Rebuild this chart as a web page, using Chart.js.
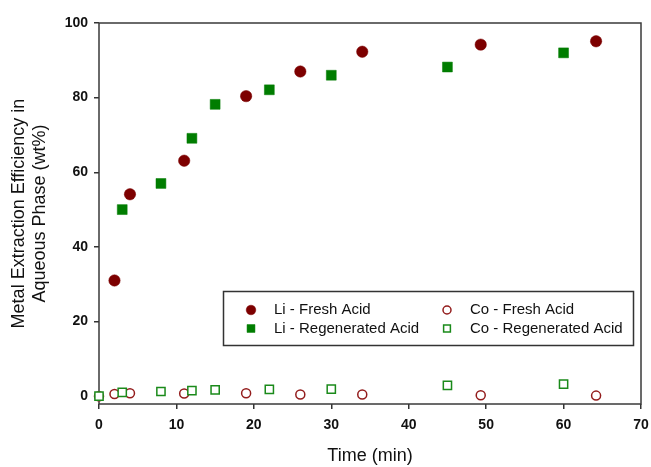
<!DOCTYPE html>
<html>
<head>
<meta charset="utf-8">
<script src="https://cdn.jsdelivr.net/npm/chart.js@4.4.1/dist/chart.umd.min.js"></script>
<style>
  html, body { margin: 0; padding: 0; background: #fff; }
  canvas { display: block; }
</style>
</head>
<body>
<canvas id="extractionChart" width="651" height="467"></canvas>
<script>
// values (time in min, extraction in wt%)
const liFreshTime = [2, 4, 11, 19, 26, 34, 49.3, 64.2];
const liFreshValues = [31, 54.1, 63.1, 80.4, 87, 92.3, 94.2, 95.1];

const liRegenTime = [3, 8, 12, 15, 22, 30, 45, 60];
const liRegenValues = [50, 57, 69.1, 78.2, 82.1, 86, 88.2, 92];

const coFreshTime = [0, 2, 4, 11, 19, 26, 34, 49.3, 64.2];
const coFreshValues = [0, 0.6, 0.8, 0.7, 0.8, 0.45, 0.45, 0.25, 0.15];

const coRegenTime = [0, 3, 8, 12, 15, 22, 30, 45, 60];
const coRegenValues = [0, 1.0, 1.25, 1.5, 1.7, 1.8, 1.9, 2.9, 3.2];

const xTicks = [0, 10, 20, 30, 40, 50, 60, 70];
const yTicks = [0, 20, 40, 60, 80, 100];

const FONT = "'Liberation Sans', Arial, sans-serif";

function toPoints(xs, ys) {
    return xs.map((x, i) => ({ x: x, y: ys[i] }));
}

// plot frame (all four sides), drawn under the markers
const frame = {
    id: 'frame',
    beforeDatasetsDraw(chart) {
        const { ctx, chartArea: a } = chart;
        ctx.save();
        ctx.strokeStyle = '#3a3a3a';
        ctx.lineWidth = 1.5;
        ctx.strokeRect(a.left, a.top, a.right - a.left, a.bottom - a.top);
        ctx.restore();
    }
};

// boxed legend inside the plot, two columns
const boxLegend = {
    id: 'boxLegend',
    afterDatasetsDraw(chart) {
        const { ctx, chartArea: a } = chart;
        const left = a.left + 124.5, top = a.top + 268.5;
        const right = a.right - 7.5, bottom = a.bottom - 58.5;
        ctx.save();
        ctx.fillStyle = '#fff';
        ctx.fillRect(left, top, right - left, bottom - top);
        ctx.strokeStyle = '#333';
        ctx.lineWidth = 1.5;
        ctx.strokeRect(left, top, right - left, bottom - top);

        const cols = [a.left + 152, a.left + 348];
        const rows = [a.top + 287, a.top + 305.5];
        const items = [
            { ds: 0, col: 0, row: 0, r: 4.8 },
            { ds: 2, col: 1, row: 0, r: 4 },
            { ds: 1, col: 0, row: 1, r: 5.6 },
            { ds: 3, col: 1, row: 1, r: 4.8 }
        ];
        ctx.font = '15px ' + FONT;
        ctx.textBaseline = 'middle';
        ctx.textAlign = 'left';
        items.forEach(it => {
            const ds = chart.data.datasets[it.ds];
            const x = cols[it.col], y = rows[it.row];
            ctx.fillStyle = ds.backgroundColor;
            ctx.strokeStyle = ds.borderColor;
            ctx.lineWidth = ds.borderWidth;
            Chart.helpers.drawPoint(ctx, {
                pointStyle: ds.pointStyle,
                radius: it.r,
                borderWidth: ds.borderWidth,
                rotation: 0
            }, x, y);
            ctx.fillStyle = '#111';
            ctx.fillText(ds.label, x + 23, y);
        });
        ctx.restore();
    }
};

document.addEventListener("DOMContentLoaded", function() {
    const ctx = document.getElementById('extractionChart').getContext('2d');
    new Chart(ctx, {
        type: 'scatter',
        data: {
            datasets: [{
                label: 'Li - Fresh Acid',
                data: toPoints(liFreshTime, liFreshValues),
                pointStyle: 'circle',
                pointRadius: 5.7,
                backgroundColor: '#7d0000',
                borderColor: '#7d0000',
                borderWidth: 0.5,
                order: 3,
                clip: false
            }, {
                label: 'Li - Regenerated Acid',
                data: toPoints(liRegenTime, liRegenValues),
                pointStyle: 'rect',
                pointRadius: 7,
                backgroundColor: '#007d00',
                borderColor: '#007d00',
                borderWidth: 0.5,
                order: 2,
                clip: false
            }, {
                label: 'Co - Fresh Acid',
                data: toPoints(coFreshTime, coFreshValues),
                pointStyle: 'circle',
                pointRadius: 4.5,
                backgroundColor: '#ffffff',
                borderColor: '#931c1c',
                borderWidth: 1.5,
                order: 1,
                clip: false
            }, {
                label: 'Co - Regenerated Acid',
                data: toPoints(coRegenTime, coRegenValues),
                pointStyle: 'rect',
                pointRadius: 5.8,
                backgroundColor: '#ffffff',
                borderColor: '#1a8a1a',
                borderWidth: 1.5,
                order: 0,
                clip: false
            }]
        },
        options: {
            responsive: false,
            animation: false,
            layout: {
                padding: { top: 23, right: 10, left: 0, bottom: 0 }
            },
            plugins: {
                legend: { display: false },
                tooltip: { enabled: false }
            },
            scales: {
                x: {
                    type: 'linear',
                    min: 0,
                    max: 70,
                    afterBuildTicks: function(scale) {
                        scale.ticks = xTicks.map(v => ({ value: v }));
                    },
                    afterFit: function(scale) {
                        scale.height = 63;
                        scale.paddingLeft = 0;
                        scale.paddingRight = 0;
                    },
                    border: { display: false },
                    grid: {
                        drawOnChartArea: false,
                        drawTicks: true,
                        tickLength: 5,
                        tickColor: '#333',
                        lineWidth: 1.5
                    },
                    ticks: {
                        padding: 8,
                        color: '#111',
                        font: { family: FONT, size: 14, weight: 'bold' }
                    },
                    title: {
                        display: true,
                        text: 'Time (min)',
                        color: '#111',
                        padding: { top: 0, bottom: 0 },
                        font: { family: FONT, size: 18, lineHeight: 1.2 }
                    }
                },
                y: {
                    type: 'linear',
                    min: -2.1,
                    max: 100,
                    afterBuildTicks: function(scale) {
                        scale.ticks = yTicks.map(v => ({ value: v }));
                    },
                    afterFit: function(scale) {
                        scale.width = 99;
                        scale.paddingTop = 0;
                        scale.paddingBottom = 0;
                    },
                    border: { display: false },
                    grid: {
                        drawOnChartArea: false,
                        drawTicks: true,
                        tickLength: 5,
                        tickColor: '#333',
                        lineWidth: 1.5
                    },
                    ticks: {
                        padding: 6,
                        color: '#111',
                        font: { family: FONT, size: 14, weight: 'bold' }
                    },
                    title: {
                        display: true,
                        text: ['Metal Extraction Efficiency in', 'Aqueous Phase (wt%)'],
                        color: '#111',
                        padding: { top: 8, bottom: 0 },
                        font: { family: FONT, size: 18, lineHeight: 1.2 }
                    }
                }
            }
        },
        plugins: [frame, boxLegend]
    });
});
</script>
</body>
</html>
